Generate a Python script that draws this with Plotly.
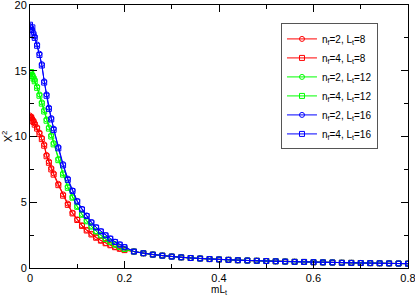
import plotly.graph_objects as go

x_vals = [0, 0.0025, 0.005, 0.0075, 0.01, 0.015, 0.02, 0.025, 0.03, 0.035, 0.04, 0.045,
          0.05, 0.06, 0.07, 0.08, 0.09, 0.1, 0.11, 0.12, 0.13, 0.14, 0.15, 0.16, 0.17,
          0.18, 0.19, 0.2,
          0.22, 0.24, 0.26, 0.28, 0.30, 0.32, 0.34, 0.36, 0.38, 0.40, 0.42, 0.44, 0.46,
          0.48, 0.50, 0.52, 0.54, 0.56, 0.58, 0.60, 0.62, 0.64, 0.66, 0.68, 0.70, 0.72,
          0.74, 0.76, 0.78, 0.80]

tail = [1.25, 1.12, 1.02, 0.94, 0.87, 0.81, 0.76, 0.72, 0.68, 0.65, 0.62, 0.59, 0.57,
        0.55, 0.53, 0.51, 0.49, 0.47, 0.46, 0.44, 0.43, 0.42, 0.40, 0.39, 0.38, 0.37,
        0.36, 0.35, 0.34, 0.33]

nf2_lt8 = [11.6, 11.5, 11.35, 11.2, 11.0, 10.7, 10.3, 9.9, 9.4, 8.6, 8.1, 7.6, 7.2, 6.4,
           5.6, 4.9, 4.2, 3.7, 3.25, 2.9, 2.6, 2.35, 2.1, 1.9, 1.75, 1.6, 1.48, 1.38] + tail
nf4_lt8 = [11.4, 11.45, 11.2, 11.1, 10.9, 10.6, 10.2, 9.8, 9.3, 8.5, 8.0, 7.5, 7.1, 6.3,
           5.5, 4.8, 4.15, 3.65, 3.2, 2.85, 2.55, 2.3, 2.08, 1.88, 1.73, 1.58, 1.46, 1.36] + tail
nf2_lt12 = [14.9, 14.85, 14.7, 14.5, 14.3, 13.8, 13.2, 12.6, 12.0, 11.3, 10.7, 10.1, 9.5,
            8.3, 7.2, 6.2, 5.4, 4.7, 4.1, 3.6, 3.2, 2.8, 2.5, 2.2, 2.0, 1.8, 1.6, 1.45] + tail
nf4_lt12 = [14.8, 14.9, 14.6, 14.4, 14.2, 13.7, 13.1, 12.5, 11.9, 11.2, 10.6, 10.0, 9.4,
            8.2, 7.1, 6.1, 5.35, 4.65, 4.05, 3.55, 3.15, 2.78, 2.48, 2.2, 1.98, 1.78, 1.6, 1.44] + tail
nf2_lt16 = [18.4, 18.3, 18.1, 17.9, 17.6, 17.0, 16.3, 15.5, 14.2, 13.2, 12.2, 11.4, 10.6,
            9.2, 7.9, 6.8, 5.9, 5.1, 4.5, 4.0, 3.5, 3.1, 2.8, 2.5, 2.25, 2.0, 1.8, 1.6] + tail
nf4_lt16 = [18.5, 18.1, 18.3, 17.7, 17.5, 16.9, 16.2, 15.4, 14.1, 13.1, 12.1, 11.3, 10.5,
            9.1, 7.8, 6.7, 5.85, 5.05, 4.45, 3.95, 3.45, 3.08, 2.78, 2.48, 2.23, 1.98, 1.78, 1.58] + tail

series_names = ["n<sub>f</sub>=2, L<sub>t</sub>=8", "n<sub>f</sub>=4, L<sub>t</sub>=8",
                "n<sub>f</sub>=2, L<sub>t</sub>=12", "n<sub>f</sub>=4, L<sub>t</sub>=12",
                "n<sub>f</sub>=2, L<sub>t</sub>=16", "n<sub>f</sub>=4, L<sub>t</sub>=16"]
series_values = [nf2_lt8, nf4_lt8, nf2_lt12, nf4_lt12, nf2_lt16, nf4_lt16]
colors = ["#ff0000", "#ff0000", "#00ff00", "#00ff00", "#0000ff", "#0000ff"]
symbols = ["circle", "square", "circle", "square", "circle", "square"]

fig = go.Figure()
for name, vals, c, s in zip(series_names, series_values, colors, symbols):
    fig.add_trace(go.Scatter(
        x=x_vals, y=vals, name=name, mode="lines+markers",
        line=dict(color=c, width=1),
        marker=dict(symbol=s, size=5, color="rgba(255,255,255,0)",
                    line=dict(width=1, color=c)),
    ))

axis_common = dict(
    showline=True, linecolor="black", linewidth=1, mirror="ticks",
    ticks="inside", ticklen=7, tickcolor="black", tickwidth=1,
    showgrid=False, zeroline=False, ticklabeloverflow="allow",
    tickfont=dict(family="Liberation Sans, Arial, sans-serif", size=11, color="black"),
)

fig.update_layout(
    width=415, height=296,
    margin=dict(l=30, r=7, t=5, b=28, autoexpand=False),
    paper_bgcolor="white", plot_bgcolor="white",
    font=dict(family="Liberation Sans, Arial, sans-serif", size=11, color="black"),
    xaxis=dict(range=[0, 0.8], tickvals=[0, 0.2, 0.4, 0.6, 0.8],
               ticktext=["0", "0.2", "0.4", "0.6", "0.8"],
               minor=dict(ticks="inside", ticklen=4, tickcolor="black", dtick=0.1),
               title=dict(text="mL<sub>t</sub>", standoff=1,
                          font=dict(size=10)),
               automargin=False,
               **axis_common),
    yaxis=dict(range=[0, 20], tickvals=[0, 5, 10, 15, 20],
               minor=dict(ticks="inside", ticklen=4, tickcolor="black", dtick=2.5),
               title=dict(text="X<sup>2</sup>", standoff=4, font=dict(size=11)),
               automargin=False,
               **axis_common),
    legend=dict(x=0.664, y=0.93, xanchor="left", yanchor="top",
                bgcolor="white", bordercolor="#555555", borderwidth=1,
                font=dict(size=10), tracegroupgap=0, itemwidth=30),
    showlegend=True,
)

fig.write_html("out.html",
               config={"staticPlot": True, "displayModeBar": False},
               post_script="document.body.style.margin='0';document.body.style.overflow='hidden';")
